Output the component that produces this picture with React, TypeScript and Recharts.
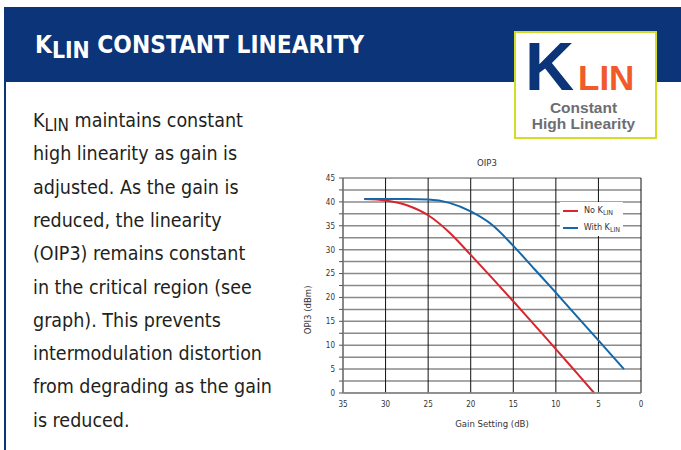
import React from "react";
import { LineChart, Line, XAxis, YAxis, CartesianGrid, Legend } from "recharts";

const noKlin = [
  { gain: 32.5, oip3: 40.6 },
  { gain: 30, oip3: 40.3 },
  { gain: 27.5, oip3: 39.3 },
  { gain: 25, oip3: 37.2 },
  { gain: 22.5, oip3: 33.6 },
  { gain: 20, oip3: 28.9 },
  { gain: 17.5, oip3: 24.1 },
  { gain: 15, oip3: 19.2 },
  { gain: 12.5, oip3: 14.2 },
  { gain: 10, oip3: 9.2 },
  { gain: 7.5, oip3: 4.1 },
  { gain: 5.5, oip3: 0 },
];

const withKlin = [
  { gain: 32.5, oip3: 40.6 },
  { gain: 30, oip3: 40.6 },
  { gain: 27.5, oip3: 40.6 },
  { gain: 25, oip3: 40.5 },
  { gain: 22.5, oip3: 39.8 },
  { gain: 20, oip3: 38.0 },
  { gain: 17.5, oip3: 35.2 },
  { gain: 15, oip3: 30.8 },
  { gain: 12.5, oip3: 25.9 },
  { gain: 10, oip3: 21.0 },
  { gain: 7.5, oip3: 16.0 },
  { gain: 5, oip3: 11.0 },
  { gain: 2, oip3: 5.0 },
];

const xTicks = [35, 30, 25, 20, 15, 10, 5, 0];
const yTicks = [0, 2.5, 5, 7.5, 10, 12.5, 15, 17.5, 20, 22.5, 25, 27.5, 30, 32.5, 35, 37.5, 40, 42.5, 45];

const bodyLines = [
  "maintains constant",
  "high linearity as gain is",
  "adjusted. As the gain is",
  "reduced, the linearity",
  "(OIP3) remains constant",
  "in the critical region (see",
  "graph). This prevents",
  "intermodulation distortion",
  "from degrading as the gain",
  "is reduced.",
];

const NAVY = "#0b3479";
const RED = "#d7262e";
const BLUE = "#1468aa";
const NARROW = '"Liberation Sans Narrow", "DejaVu Sans Condensed", "Roboto", sans-serif';
const ARIAL = '"Liberation Sans", Arial, sans-serif';

const LegendContent = () => (
  <div
    style={{
      background: "#fff",
      fontFamily: NARROW,
      fontSize: 9,
      color: "#333",
      padding: "0 3px",
      lineHeight: "16px",
      width: 57,
    }}
  >
    {[
      { c: RED, t: "No K" },
      { c: BLUE, t: "With K" },
    ].map((r) => (
      <div key={r.t} style={{ display: "flex", alignItems: "center", whiteSpace: "nowrap" }}>
        <span style={{ display: "inline-block", width: 15, height: 2, background: r.c, marginRight: 6 }} />
        <span>
          {r.t}
          <span style={{ fontSize: 7, position: "relative", top: 2 }}>LIN</span>
        </span>
      </div>
    ))}
  </div>
);

export default function App() {
  return (
    <div
      style={{
        position: "absolute",
        left: 0,
        top: 0,
        width: 681,
        height: 450,
        background: "#fff",
        overflow: "hidden",
        fontFamily: NARROW,
      }}
    >
      {/* header band */}
      <div style={{ position: "absolute", left: 4, top: 7, width: 677, height: 75, background: NAVY }} />
      {/* left border */}
      <div style={{ position: "absolute", left: 4, top: 82, width: 2, height: 368, background: NAVY }} />
      <div
        style={{
          position: "absolute",
          left: 35,
          top: 29.5,
          color: "#fff",
          fontWeight: 700,
          fontSize: 25,
          lineHeight: "30px",
          whiteSpace: "nowrap",
          transform: "scaleX(0.97)",
          transformOrigin: "0 0",
        }}
      >
        K<span style={{ fontSize: 23.5, position: "relative", top: 5 }}>LIN</span> CONSTANT LINEARITY
      </div>

      {/* logo */}
      <div
        style={{
          position: "absolute",
          left: 514,
          top: 31,
          width: 139,
          height: 104,
          background: "#fff",
          border: "2px solid #d4dc2a",
        }}
      >
        <div
          style={{
            position: "absolute",
            left: 9,
            top: 5,
            fontFamily: ARIAL,
            fontWeight: 700,
            fontSize: 68,
            color: NAVY,
            lineHeight: "56px",
          }}
        >
          K
        </div>
        <div
          style={{
            position: "absolute",
            left: 62,
            top: 27,
            fontFamily: ARIAL,
            fontWeight: 700,
            fontSize: 35,
            color: "#f15a29",
            lineHeight: "35px",
            whiteSpace: "nowrap",
          }}
        >
          LIN
        </div>
        <div
          style={{
            position: "absolute",
            left: -2,
            width: 139,
            top: 66.5,
            textAlign: "center",
            fontFamily: ARIAL,
            fontWeight: 700,
            fontSize: 15.5,
            color: "#6d6e71",
            lineHeight: "16px",
          }}
        >
          Constant
          <br />
          High Linearity
        </div>
      </div>

      {/* body text */}
      {bodyLines.map((t, i) => (
        <div
          key={i}
          style={{
            position: "absolute",
            left: 33,
            top: 109 + i * 33.3,
            fontSize: 19.5,
            lineHeight: "24px",
            color: "#231f20",
            whiteSpace: "nowrap",
          }}
        >
          {i === 0 ? (
            <>
              K<span style={{ fontSize: 17, position: "relative", top: 4 }}>LIN</span>{" "}
            </>
          ) : null}
          {t}
        </div>
      ))}

      {/* chart title */}
      <div
        style={{
          position: "absolute",
          left: 437,
          width: 100,
          top: 157,
          textAlign: "center",
          fontSize: 9.5,
          color: "#333",
        }}
      >
        OIP3
      </div>

      <div style={{ position: "absolute", left: 290, top: 150 }}>
        <LineChart width={370} height={290} margin={{ top: 28, right: 19, bottom: 22, left: 23 }}>
          <CartesianGrid vertical={false} stroke="#8a8a8a" strokeWidth={1.5} />
          <CartesianGrid horizontal={false} stroke="#111" strokeWidth={1} />
          <XAxis
            dataKey="gain"
            type="number"
            domain={[0, 35]}
            reversed
            ticks={xTicks}
            interval={0}
            tickLine={false}
            axisLine={{ stroke: "#8a8a8a", strokeWidth: 1.5 }}
            tick={{ fontSize: 8, fill: "#333", fontFamily: NARROW }}
            height={25}
            label={{ value: "Gain Setting (dB)", position: "bottom", offset: 2, fontSize: 9.5, fill: "#333", fontFamily: NARROW }}
          />
          <YAxis
            type="number"
            domain={[0, 45]}
            ticks={yTicks}
            interval={0}
            width={30}
            tickSize={4}
            tickMargin={4}
            tickLine={{ stroke: "#555" }}
            axisLine={{ stroke: "#8a8a8a", strokeWidth: 1.5 }}
            tickFormatter={(v: number) => (v % 5 === 0 ? String(v) : "")}
            tick={{ fontSize: 8, fill: "#333", fontFamily: NARROW }}
            label={{ value: "OPI3 (dBm)", angle: -90, position: "left", offset: 5, fontSize: 9.5, fill: "#333", fontFamily: NARROW }}
          />
          <YAxis yAxisId="right" orientation="right" width={0} axisLine={{ stroke: "#8a8a8a", strokeWidth: 1.5 }} tick={false} tickLine={false} />
          <Legend
            layout="horizontal"
            verticalAlign="middle"
            align="center"
            wrapperStyle={{ left: 270, top: 52, width: 63, height: 32 }}
            content={<LegendContent />}
          />
          <Line
            data={noKlin}
            dataKey="oip3"
            type="monotone"
            stroke={RED}
            strokeWidth={2}
            dot={false}
            isAnimationActive={false}
            name="No KLIN"
          />
          <Line
            data={withKlin}
            dataKey="oip3"
            type="monotone"
            stroke={BLUE}
            strokeWidth={2}
            dot={false}
            isAnimationActive={false}
            name="With KLIN"
          />
        </LineChart>
      </div>
    </div>
  );
}
